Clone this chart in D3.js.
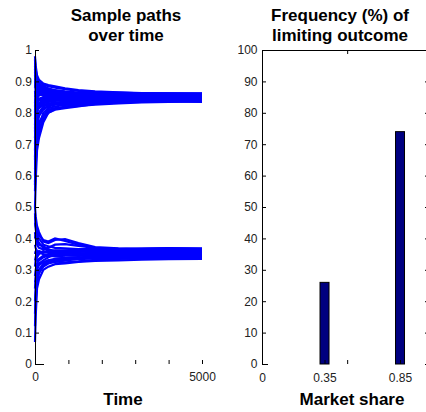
<!DOCTYPE html>
<html>
<head>
<meta charset="utf-8">
<script src="https://cdn.jsdelivr.net/npm/d3@7"></script>
<style>
  body { margin: 0; background: #fff; }
  svg { display: block; font-family: "Liberation Sans", Arial, sans-serif; }
  .tick text { fill: #222; }
</style>
</head>
<body>
<svg id="chart" width="426" height="412"></svg>
<script>
// sample times for every path
const times = [0, 20, 60, 120, 250, 400, 600, 900, 1300, 1800, 2500, 3200, 4000, 5000];

// paths that end near 0.85
const upperPaths = [
  [0.97, 0.93, 0.91, 0.90, 0.89, 0.885, 0.88, 0.875, 0.87, 0.866, 0.864, 0.862, 0.861, 0.860],
  [0.62, 0.66, 0.71, 0.73, 0.78, 0.80, 0.812, 0.818, 0.822, 0.826, 0.83, 0.833, 0.835, 0.836],
  [0.55, 0.63, 0.70, 0.74, 0.79, 0.81, 0.815, 0.817, 0.824, 0.83, 0.834, 0.838, 0.84, 0.842],
  [0.90, 0.88, 0.87, 0.865, 0.86, 0.858, 0.855, 0.852, 0.851, 0.85, 0.849, 0.85, 0.851, 0.85],
  [0.85, 0.86, 0.88, 0.87, 0.865, 0.86, 0.862, 0.86, 0.858, 0.856, 0.855, 0.854, 0.853, 0.852],
  [0.75, 0.80, 0.82, 0.83, 0.84, 0.845, 0.848, 0.85, 0.849, 0.848, 0.847, 0.846, 0.847, 0.848],
  [0.93, 0.91, 0.90, 0.89, 0.885, 0.878, 0.872, 0.868, 0.864, 0.86, 0.858, 0.857, 0.856, 0.855],
  [0.68, 0.76, 0.80, 0.82, 0.83, 0.835, 0.838, 0.84, 0.842, 0.843, 0.844, 0.845, 0.844, 0.845],
  [0.80, 0.84, 0.86, 0.875, 0.87, 0.868, 0.865, 0.862, 0.86, 0.858, 0.857, 0.858, 0.857, 0.858],
  [0.88, 0.90, 0.895, 0.885, 0.875, 0.87, 0.866, 0.864, 0.862, 0.861, 0.86, 0.859, 0.858, 0.857],
  [0.72, 0.78, 0.81, 0.815, 0.825, 0.83, 0.832, 0.835, 0.838, 0.84, 0.842, 0.841, 0.842, 0.841],
  [0.95, 0.92, 0.88, 0.86, 0.855, 0.85, 0.848, 0.846, 0.845, 0.846, 0.848, 0.849, 0.85, 0.849],
  [0.60, 0.70, 0.75, 0.79, 0.81, 0.822, 0.83, 0.836, 0.84, 0.842, 0.843, 0.844, 0.846, 0.847],
  [0.82, 0.85, 0.84, 0.845, 0.85, 0.852, 0.854, 0.855, 0.856, 0.855, 0.854, 0.853, 0.854, 0.853],
  [0.91, 0.89, 0.885, 0.88, 0.87, 0.865, 0.86, 0.858, 0.856, 0.854, 0.852, 0.851, 0.852, 0.851],
  [0.78, 0.82, 0.835, 0.84, 0.838, 0.84, 0.842, 0.844, 0.846, 0.847, 0.846, 0.844, 0.843, 0.844],
  [0.86, 0.87, 0.865, 0.87, 0.875, 0.872, 0.87, 0.866, 0.863, 0.86, 0.859, 0.86, 0.86, 0.859],
  [0.65, 0.74, 0.79, 0.80, 0.815, 0.82, 0.826, 0.83, 0.833, 0.836, 0.838, 0.839, 0.838, 0.839],
  [0.84, 0.83, 0.845, 0.855, 0.86, 0.857, 0.853, 0.85, 0.848, 0.849, 0.851, 0.852, 0.851, 0.852],
  [0.96, 0.94, 0.91, 0.895, 0.88, 0.875, 0.87, 0.865, 0.862, 0.86, 0.857, 0.856, 0.855, 0.856],
  [0.58, 0.64, 0.72, 0.76, 0.80, 0.815, 0.82, 0.825, 0.83, 0.834, 0.836, 0.837, 0.838, 0.838],
  [0.87, 0.85, 0.86, 0.865, 0.862, 0.864, 0.866, 0.863, 0.861, 0.862, 0.861, 0.862, 0.862, 0.861],
  [0.76, 0.81, 0.83, 0.84, 0.845, 0.843, 0.84, 0.842, 0.843, 0.845, 0.846, 0.848, 0.849, 0.85],
  [0.92, 0.90, 0.89, 0.88, 0.868, 0.862, 0.858, 0.855, 0.853, 0.852, 0.851, 0.85, 0.848, 0.846],
  [0.50, 0.58, 0.68, 0.72, 0.77, 0.80, 0.81, 0.815, 0.82, 0.828, 0.832, 0.836, 0.839, 0.84],
  [0.89, 0.87, 0.875, 0.88, 0.878, 0.874, 0.868, 0.86, 0.855, 0.853, 0.853, 0.855, 0.856, 0.857],
  [0.70, 0.77, 0.805, 0.825, 0.835, 0.84, 0.845, 0.848, 0.85, 0.851, 0.852, 0.853, 0.853, 0.854],
  [0.81, 0.83, 0.85, 0.86, 0.858, 0.855, 0.85, 0.847, 0.846, 0.844, 0.842, 0.842, 0.841, 0.843],
  [0.94, 0.91, 0.895, 0.885, 0.878, 0.87, 0.864, 0.86, 0.857, 0.855, 0.854, 0.852, 0.85, 0.851],
  [0.66, 0.72, 0.77, 0.80, 0.82, 0.826, 0.828, 0.826, 0.828, 0.832, 0.835, 0.836, 0.837, 0.837],
  [0.83, 0.86, 0.87, 0.865, 0.855, 0.848, 0.845, 0.847, 0.85, 0.852, 0.85, 0.848, 0.846, 0.847],
  [0.74, 0.79, 0.815, 0.83, 0.832, 0.836, 0.84, 0.838, 0.836, 0.838, 0.84, 0.843, 0.844, 0.843],
  [0.98, 0.95, 0.92, 0.905, 0.893, 0.888, 0.884, 0.878, 0.872, 0.868, 0.865, 0.863, 0.862, 0.862],
  [0.57, 0.68, 0.73, 0.77, 0.79, 0.805, 0.812, 0.82, 0.826, 0.83, 0.834, 0.835, 0.836, 0.835]
];

// paths that end near 0.35
const lowerPaths = [
  [0.07, 0.15, 0.24, 0.27, 0.30, 0.31, 0.318, 0.32, 0.325, 0.328, 0.33, 0.332, 0.334, 0.335],
  [0.50, 0.47, 0.44, 0.42, 0.39, 0.385, 0.395, 0.398, 0.385, 0.372, 0.368, 0.366, 0.365, 0.366],
  [0.35, 0.36, 0.34, 0.35, 0.36, 0.355, 0.352, 0.35, 0.352, 0.354, 0.355, 0.354, 0.353, 0.354],
  [0.20, 0.25, 0.28, 0.30, 0.32, 0.33, 0.335, 0.338, 0.34, 0.342, 0.343, 0.344, 0.345, 0.344],
  [0.42, 0.40, 0.38, 0.37, 0.365, 0.37, 0.38, 0.382, 0.376, 0.37, 0.366, 0.363, 0.362, 0.361],
  [0.28, 0.30, 0.32, 0.33, 0.34, 0.345, 0.343, 0.34, 0.338, 0.337, 0.338, 0.34, 0.339, 0.34],
  [0.12, 0.20, 0.26, 0.29, 0.31, 0.32, 0.325, 0.33, 0.334, 0.336, 0.338, 0.337, 0.338, 0.338],
  [0.45, 0.43, 0.40, 0.385, 0.37, 0.36, 0.355, 0.358, 0.36, 0.358, 0.356, 0.357, 0.358, 0.357],
  [0.38, 0.37, 0.36, 0.355, 0.35, 0.348, 0.35, 0.352, 0.35, 0.348, 0.349, 0.35, 0.349, 0.35],
  [0.31, 0.33, 0.35, 0.36, 0.355, 0.36, 0.362, 0.36, 0.358, 0.36, 0.362, 0.363, 0.362, 0.363],
  [0.24, 0.28, 0.31, 0.32, 0.33, 0.34, 0.348, 0.346, 0.344, 0.346, 0.347, 0.346, 0.347, 0.346],
  [0.47, 0.45, 0.41, 0.40, 0.38, 0.375, 0.37, 0.368, 0.366, 0.366, 0.364, 0.366, 0.368, 0.367],
  [0.16, 0.22, 0.27, 0.29, 0.315, 0.325, 0.33, 0.334, 0.336, 0.34, 0.341, 0.342, 0.342, 0.341],
  [0.40, 0.41, 0.39, 0.38, 0.375, 0.365, 0.36, 0.362, 0.364, 0.365, 0.367, 0.368, 0.369, 0.368],
  [0.33, 0.34, 0.33, 0.335, 0.345, 0.35, 0.356, 0.355, 0.353, 0.351, 0.352, 0.352, 0.351, 0.352],
  [0.48, 0.44, 0.42, 0.41, 0.395, 0.39, 0.40, 0.392, 0.38, 0.37, 0.363, 0.36, 0.36, 0.359],
  [0.26, 0.27, 0.30, 0.315, 0.325, 0.33, 0.326, 0.324, 0.327, 0.332, 0.335, 0.336, 0.336, 0.337]
];

// histogram of limiting outcomes
const shares = [0.35, 0.85];
const frequencies = [26, 74];

const timeTicks = [0, 1000, 2000, 3000, 4000, 5000];
const timeLabels = [0, 5000];
const shareTicks = d3.range(0, 1.01, 0.1);
const freqTicks = d3.range(0, 101, 10);

const svg = d3.select("#chart");

// ---------- left panel: sample paths ----------
const xT = d3.scaleLinear().domain([0, 5000]).range([35, 202]);
const yS = d3.scaleLinear().domain([0, 1]).range([364, 50]);

const line = d3.line()
  .x((d, i) => xT(times[i]))
  .y(d => yS(d));

svg.append("g")
  .selectAll("path")
  .data(upperPaths.concat(lowerPaths))
  .enter()
  .append("path")
  .attr("d", line)
  .attr("fill", "none")
  .attr("stroke", "#0000ff")
  .attr("stroke-width", 2.2);

svg.append("g")
  .attr("transform", `translate(${xT(0)},0)`)
  .call(d3.axisLeft(yS)
    .tickValues(shareTicks)
    .tickSize(-4)
    .tickSizeOuter(0)
    .tickPadding(3)
    .tickFormat(d3.format("~g")))
  .call(g => g.selectAll("text").style("font-size", "12px"));

svg.append("g")
  .attr("transform", `translate(0,${yS(0)})`)
  .call(d3.axisBottom(xT)
    .tickValues(timeTicks)
    .tickSize(-4)
    .tickPadding(8)
    .tickFormat(d => timeLabels.includes(d) ? d : ""))
  .call(g => g.select(".domain").remove())
  .call(g => g.selectAll("text").style("font-size", "12px"));

svg.append("line")
  .attr("x1", xT(0)).attr("x2", xT(0) + 9)
  .attr("y1", yS(0) + 0.5).attr("y2", yS(0) + 0.5)
  .attr("stroke", "#000");

svg.append("text")
  .attr("x", 126).attr("y", 21)
  .attr("text-anchor", "middle")
  .style("font-size", "17px").style("font-weight", "bold")
  .text("Sample paths");
svg.append("text")
  .attr("x", 126).attr("y", 41)
  .attr("text-anchor", "middle")
  .style("font-size", "17px").style("font-weight", "bold")
  .text("over time");
svg.append("text")
  .attr("x", 123).attr("y", 405)
  .attr("text-anchor", "middle")
  .style("font-size", "17px").style("font-weight", "bold")
  .text("Time");

// ---------- right panel: frequency bars ----------
const xDomain = [-0.064, 1.042];
const xM = d3.scaleLinear().domain(xDomain).range([262, 429]);
const yF = d3.scaleLinear().domain([0, 100]).range([364, 50]);
const barW = 9;

svg.append("g")
  .selectAll("rect")
  .data(shares)
  .enter()
  .append("rect")
  .attr("x", d => xM(d) - barW / 2)
  .attr("y", (d, i) => yF(frequencies[i]))
  .attr("width", barW)
  .attr("height", (d, i) => yF(0) - yF(frequencies[i]))
  .attr("fill", "#000080")
  .attr("stroke", "#000")
  .attr("stroke-width", 1);

svg.append("g")
  .attr("transform", `translate(${xM.range()[0]},0)`)
  .call(d3.axisLeft(yF)
    .tickValues(freqTicks)
    .tickSize(-4)
    .tickSizeOuter(0)
    .tickPadding(4.5))
  .call(g => g.selectAll("text").style("font-size", "12px"));

svg.append("g")
  .attr("transform", `translate(${xM.range()[1]},0)`)
  .call(d3.axisRight(yF)
    .tickValues(freqTicks)
    .tickSize(-4)
    .tickSizeOuter(0)
    .tickFormat(""));

svg.append("g")
  .attr("transform", `translate(0,${yF(100)})`)
  .call(d3.axisTop(xM)
    .tickValues([0.5])
    .tickSize(-4)
    .tickSizeOuter(0)
    .tickFormat(""));

svg.append("g")
  .attr("transform", `translate(0,${yF(0)})`)
  .call(d3.axisBottom(xM)
    .tickValues([xDomain[0], 0.35, 0.5, 0.85])
    .tickSize(-4)
    .tickPadding(9)
    .tickFormat(d => d === xDomain[0] ? "0" : d === 0.5 ? "" : d))
  .call(g => g.select(".domain").remove())
  .call(g => g.selectAll(".tick").filter(d => d === xDomain[0]).select("line").remove())
  .call(g => g.selectAll("text").style("font-size", "12px"));

svg.append("line")
  .attr("x1", xM.range()[0]).attr("x2", xM.range()[0] + 6)
  .attr("y1", yF(0) + 0.5).attr("y2", yF(0) + 0.5)
  .attr("stroke", "#000");

svg.append("text")
  .attr("x", 340).attr("y", 21)
  .attr("text-anchor", "middle")
  .style("font-size", "17px").style("font-weight", "bold")
  .text("Frequency (%) of");
svg.append("text")
  .attr("x", 340).attr("y", 41)
  .attr("text-anchor", "middle")
  .style("font-size", "17px").style("font-weight", "bold")
  .text("limiting outcome");
svg.append("text")
  .attr("x", 352).attr("y", 405)
  .attr("text-anchor", "middle")
  .style("font-size", "17px").style("font-weight", "bold")
  .text("Market share");
</script>
</body>
</html>
